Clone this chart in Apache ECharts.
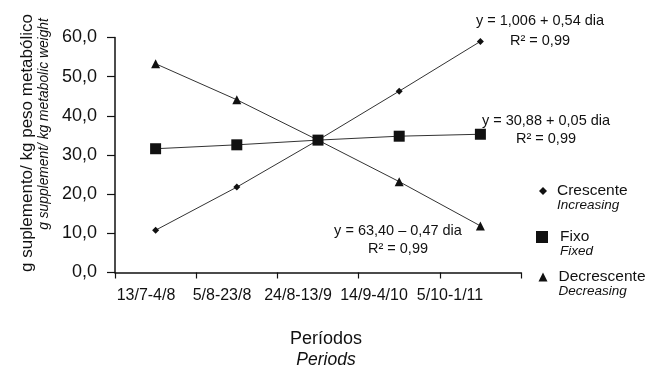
<!DOCTYPE html>
<html>
<head>
<meta charset="utf-8">
<script src="https://cdn.jsdelivr.net/npm/echarts@6/dist/echarts.min.js"></script>
<style>
  html, body { margin: 0; padding: 0; background: #fff; }
  #chart { width: 646px; height: 374px; }
</style>
</head>
<body>
<div id="chart"></div>
<script>
  // períodos de suplementação
  var periodos = ['13/7-4/8', '5/8-23/8', '24/8-13/9', '14/9-4/10', '5/10-1/11'];
  var crescente = [10.8, 21.8, 33.8, 46.3, 59.0];
  var fixo = [31.6, 32.6, 33.8, 34.8, 35.3];
  var decrescente = [53.3, 44.1, 33.8, 23.2, 11.9];
  var yTicks = [0, 10, 20, 30, 40, 50, 60];

  var font = '"Liberation Sans", Arial, sans-serif';
  var myChart = echarts.init(document.getElementById('chart'));

  function legendItem(name, icon, size, pad, left, top) {
    return {
      data: [name],
      orient: 'vertical',
      left: left,
      top: top,
      padding: 0,
      icon: icon,
      itemWidth: size,
      itemHeight: size,
      selectedMode: false,
      textStyle: {
        fontFamily: font,
        lineHeight: 14,
        rich: {
          e: { fontSize: 12, lineHeight: 14, padding: [0, 0, 0, pad] },
          a: { fontSize: 15.5, lineHeight: 14, color: '#111', fontFamily: font, padding: [0, 0, 0, pad] },
          b: { fontSize: 13.5, lineHeight: 14, color: '#111', fontStyle: 'italic', fontFamily: font, padding: [0, 0, 0, pad] }
        }
      },
      formatter: function (n) {
        var tr = { 'Crescente': 'Increasing', 'Fixo': 'Fixed', 'Decrescente': 'Decreasing' };
        return '{e| }\n{a|' + n + '}\n{b|' + tr[n] + '}';
      }
    };
  }

  function lineSerie(name, data, symbol, size, z) {
    return {
      name: name,
      type: 'line',
      xAxisIndex: 0,
      yAxisIndex: 0,
      data: data,
      symbol: symbol,
      symbolSize: size,
      showAllSymbol: true,
      z: z,
      lineStyle: { color: '#333', width: 1 },
      itemStyle: { color: '#111' },
      emphasis: { disabled: true }
    };
  }

  var eqStyle = { fontFamily: font, fontSize: 14.5, fill: '#111', textAlign: 'center', textVerticalAlign: 'middle' };

  function txt(x, y, s, extra) {
    return {
      type: 'text', x: x, y: y,
      style: Object.assign({ text: s }, eqStyle, extra || {})
    };
  }

  var options = {
    backgroundColor: '#fff',
    animation: false,
    grid: [
      { left: 115, right: 125, top: 37.5, bottom: 97 },
      { left: 108, width: 380, top: 37.5, bottom: 97 }
    ],
    legend: [
      legendItem('Crescente', 'diamond', 8, 5, 539, 170),
      legendItem('Fixo', 'rect', 12, 7, 536, 216),
      legendItem('Decrescente', 'triangle', 9, 6, 538.5, 256)
    ],
    xAxis: [{
      type: 'category',
      gridIndex: 0,
      data: periodos,
      boundaryGap: true,
      axisLine: { show: true, lineStyle: { color: '#111', width: 1.5 } },
      axisTick: { show: true, length: 6, lineStyle: { color: '#111', width: 1.2 } },
      axisLabel: { show: false },
      name: '{a|Períodos}\n{b|Periods}',
      nameLocation: 'middle',
      nameGap: 56,
      nameTextStyle: {
        padding: [0, 0, 0, 16],
        rich: {
          a: { fontFamily: font, fontSize: 18, color: '#111', lineHeight: 21 },
          b: { fontFamily: font, fontSize: 17.5, color: '#111', fontStyle: 'italic', lineHeight: 21 }
        }
      }
    }, {
      type: 'category',
      gridIndex: 1,
      data: periodos,
      boundaryGap: true,
      axisLine: { show: false },
      axisTick: { show: false },
      axisLabel: { interval: 0, hideOverlap: false, margin: 11, fontFamily: font, fontSize: 16, color: '#111' }
    }],
    yAxis: [{
      type: 'value',
      gridIndex: 0,
      min: yTicks[0],
      max: yTicks[yTicks.length - 1],
      interval: 10,
      axisLine: { show: true, lineStyle: { color: '#111', width: 1.5 } },
      axisTick: { show: true, length: 8, lineStyle: { color: '#111', width: 1.2 } },
      splitLine: { show: false },
      axisLabel: {
        margin: 18,
        fontFamily: font,
        fontSize: 18,
        color: '#111',
        formatter: function (v) { return v.toFixed(1).replace('.', ','); }
      }
    }, {
      type: 'value',
      gridIndex: 1,
      show: false,
      min: 0,
      max: 60
    }],
    graphic: [
      {
        type: 'text', x: 27, y: 143, rotation: Math.PI / 2,
        style: { text: 'g suplemento/ kg peso metabólico', fontFamily: font, fontSize: 17, fill: '#111', textAlign: 'center', textVerticalAlign: 'middle' }
      },
      {
        type: 'text', x: 44, y: 124, rotation: Math.PI / 2,
        style: { text: 'g supplement/ kg metabolic weight', fontFamily: font, fontSize: 13.8, fontStyle: 'italic', fill: '#111', textAlign: 'center', textVerticalAlign: 'middle' }
      },
      txt(540, 21, 'y = 1,006 + 0,54 dia'),
      txt(540, 41, 'R² = 0,99'),
      txt(546, 121, 'y = 30,88 + 0,05 dia'),
      txt(546, 139, 'R² = 0,99'),
      txt(398, 231, 'y = 63,40 – 0,47 dia'),
      txt(398, 249, 'R² = 0,99')
    ],
    series: [
      lineSerie('Crescente', crescente, 'diamond', 7, 3),
      lineSerie('Decrescente', decrescente, 'triangle', 9, 3),
      lineSerie('Fixo', fixo, 'rect', 11, 4)
    ]
  };

  myChart.setOption(options);
</script>
</body>
</html>
